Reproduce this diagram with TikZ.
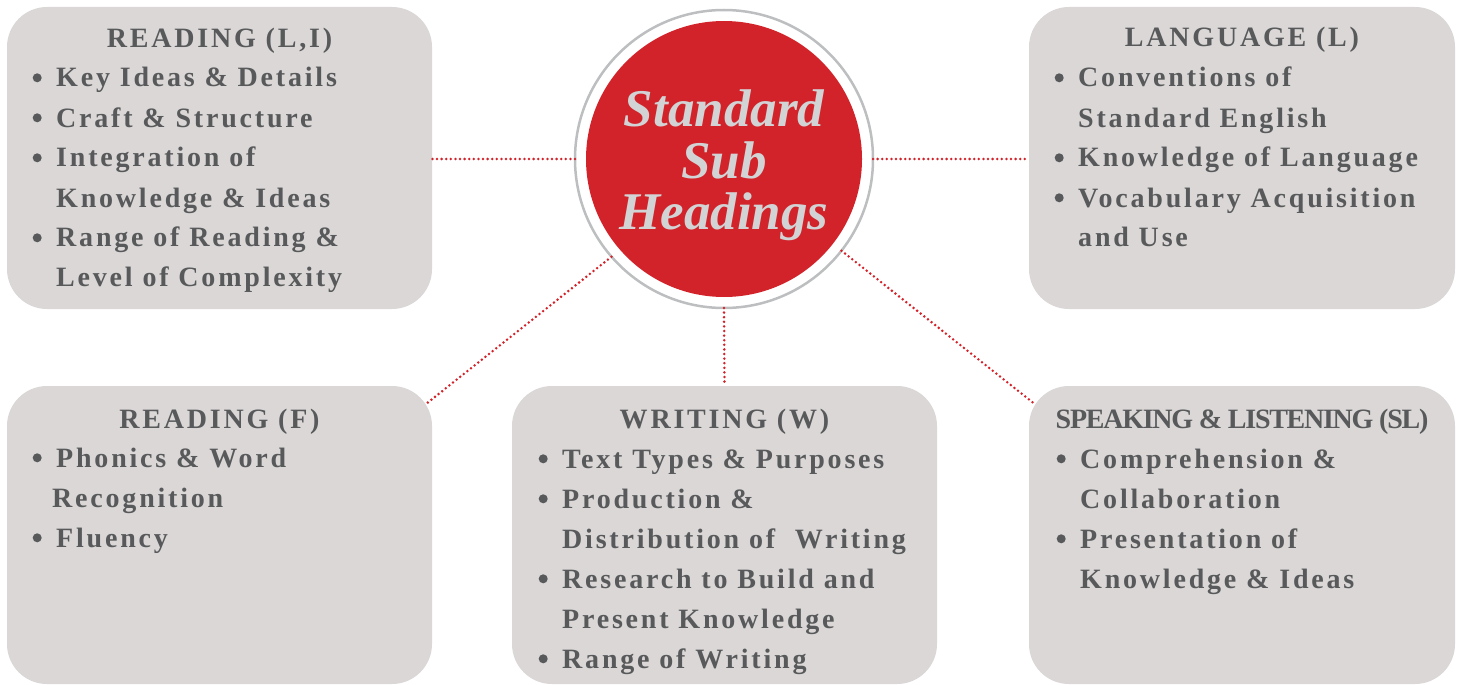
\documentclass[tikz,border=0pt]{standalone}
\usepackage{fontspec}
\setmainfont{Liberation Serif}
\newfontfamily\bxfont[LetterSpace=10]{Liberation Serif}
\newfontfamily\slfont[LetterSpace=-4.5]{Liberation Serif}
\definecolor{boxgray}{HTML}{DAD7D6}
\definecolor{tgray}{HTML}{58595B}
\definecolor{cred}{HTML}{D2232A}
\definecolor{ringgray}{HTML}{BCBEC0}
\definecolor{ctext}{HTML}{D1D3D4}
\newcommand\bl{\makebox[24pt][l]{\hspace{0.5pt}\raisebox{4.7pt}{\tikz\fill[tgray] (0pt,0pt) circle (4.5pt);}}}
\newcommand\ct{\hspace*{24pt}}
\tikzset{
  box/.style={fill=boxgray, rounded corners=40pt, minimum width=425pt, minimum height=302pt, inner sep=0pt, outer sep=0pt},
  conn/.style={draw=cred, line width=2.8pt, line cap=round, dash pattern=on 0pt off 4.6pt},
  ttl/.style={anchor=base, inner sep=0pt, text=tgray, font={\bxfont\bfseries\fontsize{28}{40}\selectfont}},
  lst/.style={anchor=base west, inner sep=0pt, text=tgray, font={\bxfont\bfseries\fontsize{28}{40}\selectfont}}
}
\begin{document}
\begin{tikzpicture}[x=1pt,y=-1pt]
\useasboundingbox (0,0) rectangle (1462,685);
% boxes
\node[box] (rli) at (219.5,158) {};
\node[box, minimum width=426pt] (lang) at (1242,158) {};
\node[box, minimum height=298pt] (rf) at (219.5,535) {};
\node[box, minimum height=298pt] (wri) at (724.5,535) {};
\node[box, minimum width=426pt, minimum height=298pt] (sl) at (1242,535) {};
% circle
\node[circle, draw=ringgray, line width=2.5pt, minimum size=298pt, inner sep=0pt, outer sep=0pt] (c) at (724,159) {};
\node[circle, fill=cred, minimum size=276pt, inner sep=0pt] (cin) at (c.center) {};
\node[anchor=base, inner sep=0pt, text=ctext, font={\bfseries\itshape\fontsize{53}{52}\selectfont}] (ctitle) at (724,126)
  {\parbox[t]{270pt}{\centering Standard\\Sub\\Headings}};
% connectors
\draw[conn] (c.west) -- (rli.east |- c.west);
\draw[conn] (c.east) -- (lang.west |- c.east);
\draw[conn] (c.south) -- (wri.north);
\draw[conn] (c.221) -- ([shift={(-6,18)}]rf.north east);
\draw[conn] (c.322) -- ([shift={(7,19)}]sl.north west);
% texts
\node[ttl] (rliT) at (rli.center |- 0,48) {READING (L,I)};
\node[lst] (rliL) at (32,87) {\parbox[t]{400pt}{\raggedright
  \bl Key Ideas \& Details\\
  \bl Craft \& Structure\\
  \bl Integration of\\
  \ct Knowledge \& Ideas\\
  \bl Range of Reading \&\\
  \ct Level of Complexity}};
\node[ttl] (langT) at (lang.center |- 0,47) {LANGUAGE (L)};
\node[lst] (langL) at (1054,87) {\parbox[t]{400pt}{\raggedright
  \bl Conventions of\\
  \ct Standard English\\
  \bl Knowledge of Language\\
  \bl Vocabulary Acquisition\\
  \ct and Use}};
\node[ttl] (rfT) at (rf.center |- 0,428) {READING (F)};
\node[lst] (rfL) at (32,467) {\parbox[t]{400pt}{\raggedright
  \bl Phonics \& Word\\
  \hspace*{20pt}Recognition\\
  \bl Fluency}};
\node[ttl] (wriT) at (wri.center |- 0,428) {WRITING (W)};
\node[lst] (wriL) at (538,468) {\parbox[t]{400pt}{\raggedright
  \bl Text Types \& Purposes\\
  \bl Production \&\\
  \ct Distribution of\ \ Writing\\
  \bl Research to Build and\\
  \ct Present Knowledge\\
  \bl Range of Writing}};
\node[anchor=base, inner sep=0pt, text=tgray, font={\slfont\bfseries\fontsize{28}{40}\selectfont}] (slT) at (sl.center |- 0,428) {SPEAKING \& LISTENING (SL)};
\node[lst] (slL) at (1056,468) {\parbox[t]{400pt}{\raggedright
  \bl Comprehension \&\\
  \ct Collaboration\\
  \bl Presentation of\\
  \ct Knowledge \& Ideas}};
\end{tikzpicture}
\end{document}
